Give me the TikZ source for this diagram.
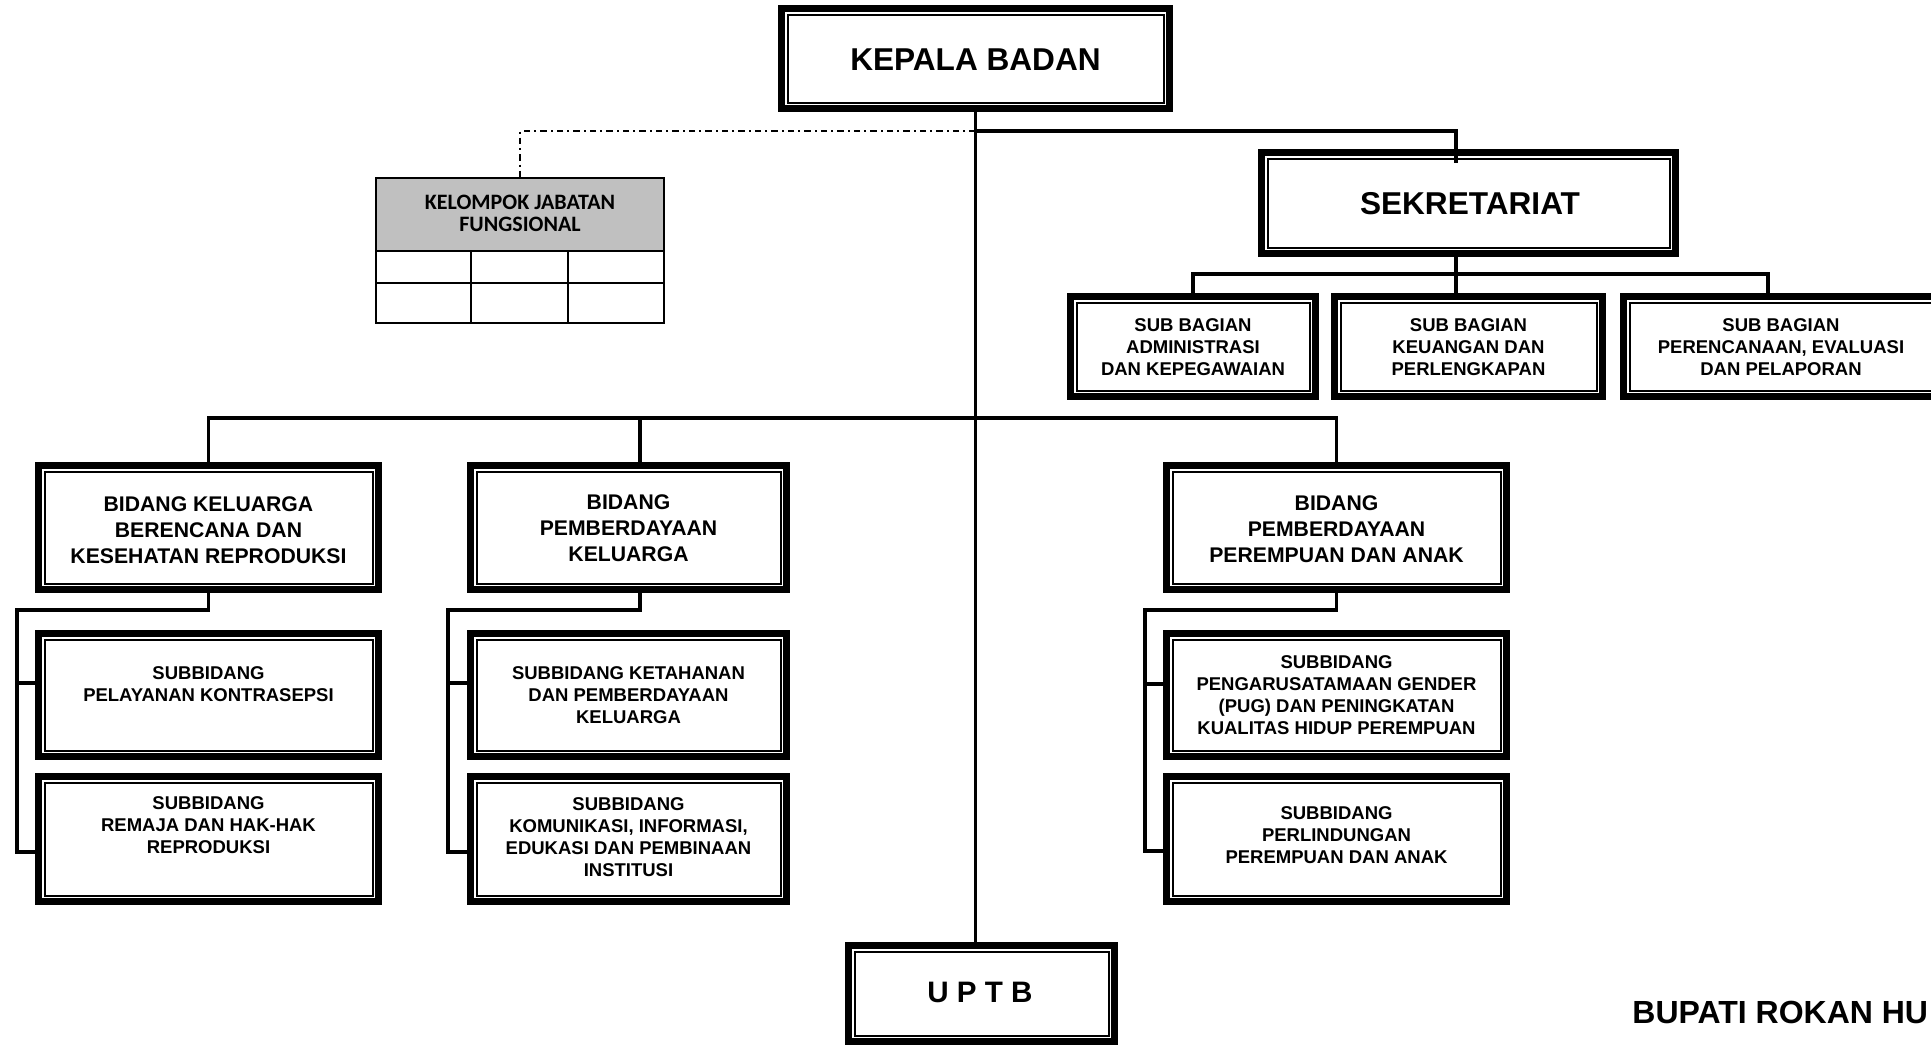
\documentclass[tikz,border=0pt]{standalone}
\usepackage{fontspec}
\setmainfont{Liberation Sans}
\newfontfamily\narrowhead{Carlito}
\usetikzlibrary{calc}
\definecolor{hdrgray}{HTML}{C0C0C0}

\begin{document}
\begin{tikzpicture}[x=0.5pt,y=-0.5pt,
  frame/.style={rectangle,inner sep=0pt,outer sep=0pt},
  label/.style={align=center,inner sep=0pt},
  bigtxt/.style={label,font=\fontsize{15.8}{19}\selectfont\bfseries},
  uptxt/.style={label,font=\fontsize{14.8}{18}\selectfont\bfseries},
  midtxt/.style={label,font=\fontsize{10.6}{12.85}\selectfont\bfseries},
  smalltxt/.style={label,font=\fontsize{9.25}{11}\selectfont\bfseries},
  headtxt/.style={label,font=\fontsize{11}{10.9}\selectfont\narrowhead\bfseries},
  trunk/.style={line width=1.8pt},
  link/.style={line width=1.75pt},
  staff/.style={line width=1.2pt,dash pattern=on 3.25pt off 2pt on 1pt off 2pt},
  thin/.style={line width=1pt}]

% canvas
\fill[white] (0,0) rectangle (1931,1046);
\useasboundingbox (0,0) rectangle (1931,1046);

% ---- box outlines (geometry) ----
\node[frame,minimum width=197.5pt,minimum height=53.5pt] (kb)  at (975.5,58.5) {};
\node[frame,minimum width=210.5pt,minimum height=54pt]   (sek) at (1468.5,203) {};
\node[frame,minimum width=126pt,minimum height=53.5pt]   (sb1) at (1193,346.5) {};
\node[frame,minimum width=137.5pt,minimum height=53.5pt] (sb2) at (1468.5,346.5) {};
\node[frame,minimum width=161pt,minimum height=53.5pt]   (sb3) at (1781,346.5) {};
\node[frame,minimum width=173.5pt,minimum height=65.5pt] (bA)  at (208.5,527.5) {};
\node[frame,minimum width=161.5pt,minimum height=65.5pt] (bB)  at (628.5,527.5) {};
\node[frame,minimum width=173.5pt,minimum height=65.5pt] (bC)  at (1336.5,527.5) {};
\node[frame,minimum width=173.5pt,minimum height=65pt]   (aS1) at (208.5,695) {};
\node[frame,minimum width=173.5pt,minimum height=66pt]   (aS2) at (208.5,839) {};
\node[frame,minimum width=161.5pt,minimum height=65pt]   (bS1) at (628.5,695) {};
\node[frame,minimum width=161.5pt,minimum height=66pt]   (bS2) at (628.5,839) {};
\node[frame,minimum width=173.5pt,minimum height=65pt]   (cS1) at (1336.5,695) {};
\node[frame,minimum width=173.5pt,minimum height=66pt]   (cS2) at (1336.5,839) {};
\node[frame,minimum width=136.5pt,minimum height=51.5pt] (uptb) at (981.5,993.5) {};
\node[frame,minimum width=144pt,minimum height=72.5pt]   (kjf) at (520,250.5) {};

% ---- connectors ----
\coordinate (jtop)  at (975.5,131);
\coordinate (sekin) at (1456,163);
\coordinate (sbar)  at (1456,274);
\coordinate (sb3top) at (1768,293);
\coordinate (bbar)  at (975.5,418);
\coordinate (bBtop) at (640,462);
\coordinate (bBbot) at (640,593);
\coordinate (aElbow) at (17,610);
\coordinate (aStub1) at (35,683);
\coordinate (aStub2) at (35,852);
\coordinate (bElbow) at (448,610);
\coordinate (bStub1) at (467,683);
\coordinate (bStub2) at (467,852);
\coordinate (cElbow) at (1145,610);
\coordinate (cStub1) at (1163,684);
\coordinate (cStub2) at (1163,851);

\draw[trunk] (kb.south) -- (kb.south |- uptb.north);
\draw[link] (jtop) -| (sekin);
\draw[staff] (jtop) -| (kjf.north);
\draw[link] (sekin |- sek.south) -- (sekin |- sb2.north);
\draw[link] (sb1.north) |- (sbar) -| (sb3top);
\draw[link] (bA.north) |- (bbar) -| (bC.north);
\draw[link] (bBtop) -- (bBtop |- bbar);

\draw[link] (bA.south) |- (aElbow) |- (aStub2);
\draw[link] (aElbow |- aStub1) -- (aStub1);
\draw[link] (bBbot) |- (bElbow) |- (bStub2);
\draw[link] (bElbow |- bStub1) -- (bStub1);
\draw[link] (bC.south) |- (cElbow) |- (cStub2);
\draw[link] (cElbow |- cStub1) -- (cStub1);

% ---- thick-thin borders ----
\foreach \n in {kb,sek,sb1,sb2,sb3,bA,bB,bC,aS1,aS2,bS1,bS2,cS1,cS2,uptb}{
  \draw[line width=3.5pt] ([shift={(3.5,3.5)}]\n.north west) rectangle ([shift={(-3.5,-3.5)}]\n.south east);
  \draw[line width=1pt] ([shift={(9.5,9.5)}]\n.north west) rectangle ([shift={(-9.5,-9.5)}]\n.south east);
}

% ---- functional group table ----
\coordinate (kjfmid) at (520,251);
\coordinate (kjfrow) at (520,283);
\coordinate (kc1) at (471,251);
\coordinate (kc2) at (568,251);
\fill[hdrgray] (kjf.north west) rectangle (kjf.east |- kjfmid);
\draw[thin] (kjf.north west) rectangle (kjf.south east);
\draw[thin] (kjf.west |- kjfmid) -- (kjf.east |- kjfmid);
\draw[thin] (kjf.west |- kjfrow) -- (kjf.east |- kjfrow);
\draw[thin] (kc1) -- (kc1 |- kjf.south);
\draw[thin] (kc2) -- (kc2 |- kjf.south);

% ---- texts ----
\node[bigtxt] (kbT)  at (975.5,60) {KEPALA BADAN};
\node[bigtxt] (sekT) at (1470,204) {SEKRETARIAT};
\node[headtxt] (kjfT) at (520,213) {KELOMPOK JABATAN\\FUNGSIONAL};
\node[smalltxt] (sb1T) at (1193,347.5) {SUB BAGIAN\\ADMINISTRASI\\DAN KEPEGAWAIAN};
\node[smalltxt] (sb2T) at (1468.5,347.5) {SUB BAGIAN\\KEUANGAN DAN\\PERLENGKAPAN};
\node[smalltxt] (sb3T) at (1781,347.5) {SUB BAGIAN\\PERENCANAAN, EVALUASI\\DAN PELAPORAN};
\node[midtxt] (bAT) at (208.5,530) {BIDANG KELUARGA\\BERENCANA DAN\\KESEHATAN REPRODUKSI};
\node[midtxt] (bBT) at (628.5,528) {BIDANG\\PEMBERDAYAAN\\KELUARGA};
\node[midtxt] (bCT) at (1336.5,529) {BIDANG\\PEMBERDAYAAN\\PEREMPUAN DAN ANAK};
\node[smalltxt] (aS1T) at (208.5,684.5) {SUBBIDANG\\PELAYANAN KONTRASEPSI};
\node[smalltxt] (aS2T) at (208.5,825) {SUBBIDANG\\REMAJA DAN HAK-HAK\\REPRODUKSI};
\node[smalltxt] (bS1T) at (628.5,695.5) {SUBBIDANG KETAHANAN\\DAN PEMBERDAYAAN\\KELUARGA};
\node[smalltxt] (bS2T) at (628.5,837.5) {SUBBIDANG\\KOMUNIKASI, INFORMASI,\\EDUKASI DAN PEMBINAAN\\INSTITUSI};
\node[smalltxt] (cS1T) at (1336.5,695) {SUBBIDANG\\PENGARUSATAMAAN GENDER\\(PUG) DAN PENINGKATAN\\KUALITAS HIDUP PEREMPUAN};
\node[smalltxt] (cS2T) at (1336.5,835.5) {SUBBIDANG\\PERLINDUNGAN\\PEREMPUAN DAN ANAK};
\node[uptxt] (uptbT) at (980,992.5) {U P T B};
\node[label,font=\fontsize{16}{19}\selectfont\bfseries,anchor=west] (bupati) at (1632,1012) {BUPATI ROKAN HU};

\end{tikzpicture}
\end{document}
